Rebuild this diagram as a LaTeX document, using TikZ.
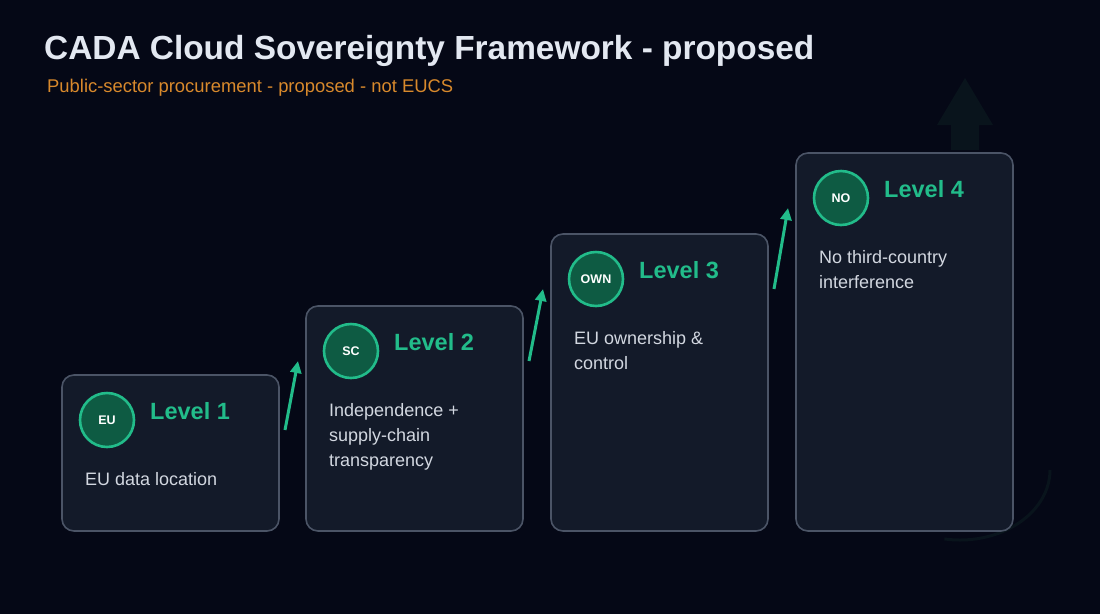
\documentclass[tikz,border=0pt]{standalone}
\usepackage{fontspec}
\setmainfont{Liberation Sans}
\usetikzlibrary{arrows.meta}
\definecolor{bgc}{HTML}{050816}
\definecolor{cardc}{HTML}{131A29}
\definecolor{cardb}{HTML}{4B5466}
\definecolor{grn}{HTML}{22BC8A}
\definecolor{grnfill}{HTML}{0E5B43}
\definecolor{titlec}{HTML}{E3E8F1}
\definecolor{subc}{HTML}{D8892C}
\definecolor{descc}{HTML}{D2D7E0}
\definecolor{ghost}{HTML}{09141C}
\tikzset{
  card/.style={draw=cardb, fill=cardc, line width=1.6pt, rounded corners=12pt},
  badge/.style={circle, draw=grn, fill=grnfill, line width=2.6pt, minimum size=54pt, inner sep=0pt,
    text=white, font=\fontsize{12.5}{14}\selectfont\bfseries},
  leveltxt/.style={anchor=west, text=grn, font=\fontsize{23.5}{26}\selectfont\bfseries, inner sep=0pt},
  desctxt/.style={anchor=north west, text=descc, font=\fontsize{18}{25}\selectfont, align=left, inner sep=0pt},
  stepup/.style={draw=grn, line width=3pt, -{Triangle[length=12pt,width=11pt]}},
}
\begin{document}
\begin{tikzpicture}[x=1pt,y=-1pt]
\fill[bgc] (0,0) rectangle (1100,614);
\useasboundingbox (0,0) rectangle (1100,614);
% faint background decorations
\fill[ghost] (965,78) -- (993,125) -- (979,125) -- (979,150) -- (951,150) -- (951,125) -- (937,125) -- cycle;
\draw[ghost, line width=3pt] (1050,470) arc[start angle=0, end angle=100, x radius=90, y radius=70];
% title
\node[anchor=west, inner sep=0pt, text=titlec, font=\fontsize{33.4}{36}\selectfont\bfseries] (title) at (44,51) {CADA Cloud Sovereignty Framework - proposed};
\node[anchor=west, inner sep=0pt, text=subc, font=\fontsize{18.4}{20}\selectfont] (sub) at (47,88) {Public-sector procurement - proposed - not EUCS};
% cards
\foreach \i/\x/\y/\badge/\desc in {1/62/375/EU/{EU data location},
  2/306/306/SC/{Independence +\\supply-chain\\transparency},
  3/551/234/OWN/{EU ownership \&\\control},
  4/796/153/NO/{No third-country\\interference}}{
  \draw[card] (\x,\y) rectangle (\x+217,531);
  \path (\x,\y) coordinate (c\i);
  \path (\x+223,\y+55) coordinate (s\i);
  \path (\x-8,\y+55) coordinate (e\i);
  \node[badge] (b\i) at (\x+45,\y+45) {\badge};
  \node[leveltxt] (l\i) at (\x+88,\y+36) {Level \i};
  \node[desctxt] (d\i) at (\x+23,\y+97) {\desc};
}
% step arrows
\draw[stepup] (s1) -- (e2);
\draw[stepup] (s2) -- (e3);
\draw[stepup] (s3) -- (e4);
\end{tikzpicture}
\end{document}
